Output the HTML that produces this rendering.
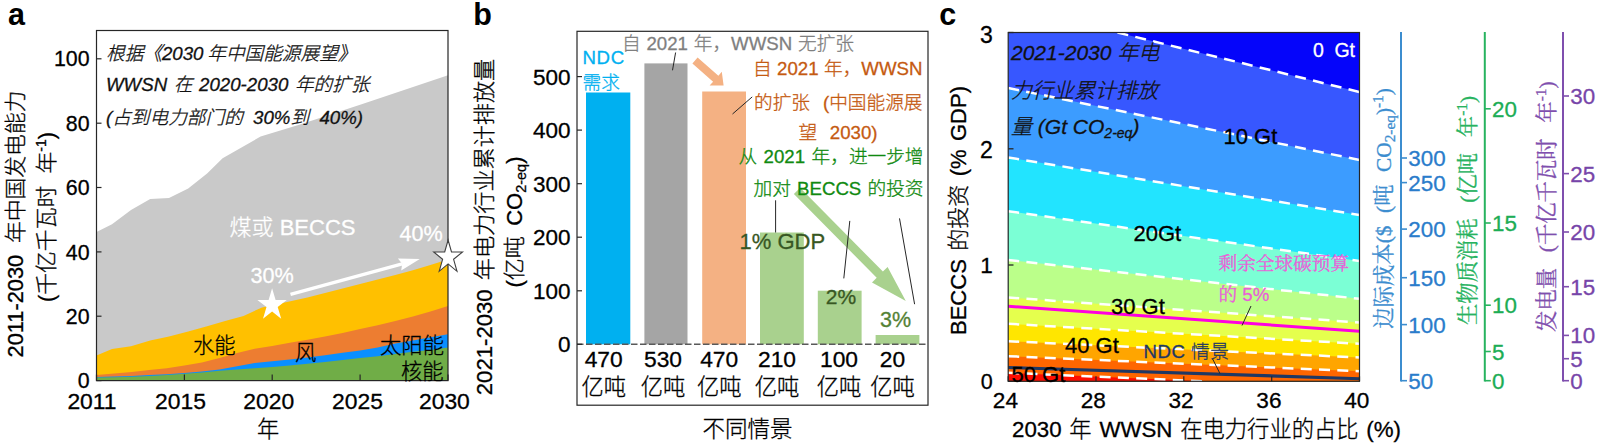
<!DOCTYPE html>
<html lang="zh"><head><meta charset="utf-8"><title>figure</title>
<style>html,body{margin:0;padding:0;background:#fff}svg{display:block;font-family:"Liberation Sans","Noto Sans CJK SC",sans-serif;font-weight:300}text{stroke-width:.3px}</style></head>
<body><svg width="1600" height="445" viewBox="0 0 1600 445">
<rect width="1600" height="445" fill="#fff"/>
<polygon points="96.5,231.9 112.0,224.3 131.0,210.0 150.2,198.9 169.0,198.0 188.2,188.6 207.1,173.5 222.6,158.2 260.6,136.5 300.0,124.5 362.4,104.0 448.0,75.2 448.0,380.6 96.5,380.6" fill="#C9C9C9"/>
<polygon points="96.5,355.4 112.0,349.1 131.0,346.2 150.2,340.5 169.0,336.5 188.2,331.5 207.1,326.2 226.0,320.8 243.5,316.0 262.0,307.4 287.0,302.0 307.4,297.4 325.0,293.0 342.6,288.6 360.1,284.1 377.7,279.5 395.3,275.0 412.9,270.2 430.4,265.0 448.0,259.5 448.0,380.6 96.5,380.6" fill="#FFC000"/>
<polygon points="96.5,375.1 114.1,373.6 131.7,371.9 149.2,370.1 166.8,368.2 184.4,365.6 201.9,362.5 219.5,358.1 237.1,353.1 254.7,348.7 272.2,346.1 289.8,342.7 307.4,339.8 325.0,336.4 342.6,332.9 360.1,329.1 377.7,325.2 395.3,321.0 412.9,316.5 430.4,311.5 448.0,306.0 448.0,380.6 96.5,380.6" fill="#ED7D31"/>
<polygon points="96.5,377.0 114.1,376.6 131.7,376.1 149.2,375.1 166.8,374.2 184.4,372.9 201.9,371.6 219.5,369.4 237.1,366.3 254.7,362.9 272.2,361.2 289.8,359.4 307.4,357.5 325.0,355.2 342.6,352.8 360.1,350.5 377.7,347.4 395.3,343.6 412.9,340.5 430.4,337.3 448.0,334.2 448.0,380.6 96.5,380.6" fill="#0A8FFF"/>
<polygon points="96.5,377.6 114.1,377.2 131.7,376.7 149.2,376.1 166.8,375.1 184.4,373.8 201.9,372.6 219.5,370.7 237.1,369.4 254.7,368.2 272.2,366.9 289.8,365.4 307.4,363.8 325.0,361.9 342.6,360.0 360.1,358.1 377.7,356.2 395.3,353.9 412.9,351.8 430.4,349.9 448.0,347.6 448.0,380.6 96.5,380.6" fill="#70AD47"/>
<rect x="96.5" y="30.5" width="351.5" height="350.1" fill="none" stroke="#262626" stroke-width="1.2"/>
<line x1="96.5" y1="380.6" x2="101.5" y2="380.6" stroke="#262626" stroke-width="1.2"/>
<text x="89.5" y="388.2" text-anchor="end" font-size="21.33" stroke="#000">0</text>
<line x1="96.5" y1="316.2" x2="101.5" y2="316.2" stroke="#262626" stroke-width="1.2"/>
<text x="89.5" y="323.8" text-anchor="end" font-size="21.33" stroke="#000">20</text>
<line x1="96.5" y1="251.9" x2="101.5" y2="251.9" stroke="#262626" stroke-width="1.2"/>
<text x="89.5" y="259.5" text-anchor="end" font-size="21.33" stroke="#000">40</text>
<line x1="96.5" y1="187.5" x2="101.5" y2="187.5" stroke="#262626" stroke-width="1.2"/>
<text x="89.5" y="195.1" text-anchor="end" font-size="21.33" stroke="#000">60</text>
<line x1="96.5" y1="123.2" x2="101.5" y2="123.2" stroke="#262626" stroke-width="1.2"/>
<text x="89.5" y="130.8" text-anchor="end" font-size="21.33" stroke="#000">80</text>
<line x1="96.5" y1="58.8" x2="101.5" y2="58.8" stroke="#262626" stroke-width="1.2"/>
<text x="89.5" y="66.4" text-anchor="end" font-size="21.33" stroke="#000">100</text>
<line x1="96.5" y1="380.6" x2="96.5" y2="374.6" stroke="#262626" stroke-width="1.2"/>
<text x="92.0" y="409.3" text-anchor="middle" font-size="22.90" stroke="#000">2011</text>
<line x1="184.4" y1="380.6" x2="184.4" y2="374.6" stroke="#262626" stroke-width="1.2"/>
<text x="180.5" y="409.3" text-anchor="middle" font-size="22.90" stroke="#000">2015</text>
<line x1="272.2" y1="380.6" x2="272.2" y2="374.6" stroke="#262626" stroke-width="1.2"/>
<text x="268.8" y="409.3" text-anchor="middle" font-size="22.90" stroke="#000">2020</text>
<line x1="360.1" y1="380.6" x2="360.1" y2="374.6" stroke="#262626" stroke-width="1.2"/>
<text x="357.5" y="409.3" text-anchor="middle" font-size="22.90" stroke="#000">2025</text>
<line x1="448.0" y1="380.6" x2="448.0" y2="374.6" stroke="#262626" stroke-width="1.2"/>
<text x="444.4" y="409.3" text-anchor="middle" font-size="22.90" stroke="#000">2030</text>
<text x="268" y="437" text-anchor="middle" font-size="22.20" stroke="#000">年</text>
<text x="8" y="24.6" font-size="30.5" font-weight="bold">a</text>
<text transform="translate(23,224) rotate(-90)" text-anchor="middle" word-spacing="5.73" font-size="21.80" stroke="#000">2011-2030 年中国发电能力</text>
<text transform="translate(54,217) rotate(-90)" text-anchor="middle" word-spacing="6.17" font-size="21.80" stroke="#000">(千亿千瓦时 年<tspan dy="-8" font-size="14">-1</tspan><tspan dy="8">)</tspan></text>
<text x="106" y="60.0" font-size="18.67" word-spacing="-1.41" font-style="italic" fill="#111" stroke="#111">根据《2030 年中国能源展望》</text>
<text x="106" y="90.5" font-size="18.67" word-spacing="1.44" font-style="italic" fill="#111" stroke="#111">WWSN 在 2020-2030 年的扩张</text>
<text x="106" y="123.5" font-size="18.67" word-spacing="5.13" font-style="italic" fill="#111" stroke="#111">(占到电力部门的 30%到 40%)</text>
<text x="193" y="352.5" font-size="21.33" stroke="#000">水能</text>
<text x="295" y="359.5" font-size="21.33" stroke="#000">风</text>
<text x="380" y="352.5" font-size="21.33" stroke="#000">太阳能</text>
<text x="401" y="378.5" font-size="21.33" stroke="#000">核能</text>
<text x="229.5" y="235.3" font-size="22.00" word-spacing="0.08" fill="#fff" stroke="#fff">煤或 BECCS</text>
<text x="250.5" y="283" font-size="21.60" fill="#fff" stroke="#fff">30%</text>
<text x="399.5" y="241" font-size="21.60" fill="#fff" stroke="#fff">40%</text>
<line x1="290.5" y1="294.3" x2="402.2" y2="263.8" stroke="#fff" stroke-width="3.3"/>
<polygon points="419.8,259.0 401.2,270.5 402.2,263.8 397.9,258.5" fill="#fff"/>
<polygon points="272.1,288.2 275.6,299.9 286.8,299.9 277.7,307.1 281.2,318.8 272.1,311.6 263.0,318.8 266.5,307.1 257.4,299.9 268.6,299.9" fill="#fff"/>
<polygon points="448.1,240.0 451.5,252.0 462.5,252.0 453.6,259.3 457.0,271.3 448.1,263.9 439.2,271.3 442.6,259.3 433.7,252.0 444.7,252.0" fill="#fff" stroke="#404040" stroke-width="1.1"/>
<rect x="586.0" y="92.5" width="44.3" height="251.8" fill="#00B0F0"/>
<rect x="644.4" y="63.4" width="43.1" height="280.9" fill="#A5A5A5"/>
<rect x="702.2" y="91.5" width="43.8" height="252.8" fill="#F4B183"/>
<rect x="760.0" y="232.5" width="43.8" height="111.8" fill="#A9D18E"/>
<rect x="817.8" y="290.7" width="43.8" height="53.6" fill="#A9D18E"/>
<rect x="875.6" y="335.0" width="43.8" height="9.3" fill="#A9D18E"/>
<line x1="577.0" y1="344.3" x2="928.0" y2="344.3" stroke="#595959" stroke-width="1.4" stroke-dasharray="6.5,2.5"/>
<rect x="577.0" y="31.3" width="351.0" height="373.9" fill="none" stroke="#262626" stroke-width="1.2"/>
<line x1="577.0" y1="344.3" x2="582.0" y2="344.3" stroke="#262626" stroke-width="1.2"/>
<text x="570.5" y="352.3" text-anchor="end" font-size="22.50" stroke="#000">0</text>
<line x1="577.0" y1="290.8" x2="582.0" y2="290.8" stroke="#262626" stroke-width="1.2"/>
<text x="570.5" y="298.8" text-anchor="end" font-size="22.50" stroke="#000">100</text>
<line x1="577.0" y1="237.2" x2="582.0" y2="237.2" stroke="#262626" stroke-width="1.2"/>
<text x="570.5" y="245.2" text-anchor="end" font-size="22.50" stroke="#000">200</text>
<line x1="577.0" y1="183.7" x2="582.0" y2="183.7" stroke="#262626" stroke-width="1.2"/>
<text x="570.5" y="191.7" text-anchor="end" font-size="22.50" stroke="#000">300</text>
<line x1="577.0" y1="130.1" x2="582.0" y2="130.1" stroke="#262626" stroke-width="1.2"/>
<text x="570.5" y="138.1" text-anchor="end" font-size="22.50" stroke="#000">400</text>
<line x1="577.0" y1="76.6" x2="582.0" y2="76.6" stroke="#262626" stroke-width="1.2"/>
<text x="570.5" y="84.6" text-anchor="end" font-size="22.50" stroke="#000">500</text>
<text x="603.7" y="367" text-anchor="middle" font-size="22.80" stroke="#000">470</text>
<text x="603.7" y="395" text-anchor="middle" font-size="22.30" stroke="#000">亿吨</text>
<text x="663.0" y="367" text-anchor="middle" font-size="22.80" stroke="#000">530</text>
<text x="663.0" y="395" text-anchor="middle" font-size="22.30" stroke="#000">亿吨</text>
<text x="719.2" y="367" text-anchor="middle" font-size="22.80" stroke="#000">470</text>
<text x="719.2" y="395" text-anchor="middle" font-size="22.30" stroke="#000">亿吨</text>
<text x="777.0" y="367" text-anchor="middle" font-size="22.80" stroke="#000">210</text>
<text x="777.0" y="395" text-anchor="middle" font-size="22.30" stroke="#000">亿吨</text>
<text x="839.0" y="367" text-anchor="middle" font-size="22.80" stroke="#000">100</text>
<text x="839.0" y="395" text-anchor="middle" font-size="22.30" stroke="#000">亿吨</text>
<text x="892.5" y="367" text-anchor="middle" font-size="22.80" stroke="#000">20</text>
<text x="892.5" y="395" text-anchor="middle" font-size="22.30" stroke="#000">亿吨</text>
<text x="747.5" y="437.3" text-anchor="middle" font-size="22.50" stroke="#000">不同情景</text>
<text x="473.3" y="24.5" font-size="30.5" font-weight="bold">b</text>
<text transform="translate(491.5,227) rotate(-90)" text-anchor="middle" word-spacing="3.05" font-size="22.15" stroke="#000">2021-2030 年电力行业累计排放量</text>
<text transform="translate(521.5,222) rotate(-90)" text-anchor="middle" word-spacing="4.19" font-size="22.00" stroke="#000">(亿吨 CO<tspan dy="4" font-size="14.5">2-eq</tspan><tspan dy="-4">)</tspan></text>
<polygon points="692.4,63.4 713.1,81.7 709.6,85.6 723.6,85.6 721.8,71.7 718.4,75.7 697.6,57.4" fill="#F4B183"/>
<polygon points="793.9,193.9 876.7,277.8 872.0,282.4 905.8,301.0 887.6,266.9 882.9,271.6 800.1,187.7" fill="#A9D18E"/>
<text x="582.5" y="64" font-size="18.67" fill="#00B0F0" letter-spacing="0.6" stroke="#00B0F0">NDC</text>
<text x="582.5" y="89" font-size="18.67" fill="#00B0F0" stroke="#00B0F0">需求</text>
<text x="622" y="49.7" font-size="18.67" word-spacing="0.62" fill="#7F7F7F" stroke="#7F7F7F">自 2021 年，WWSN 无扩张</text>
<text x="753" y="75" font-size="18.67" word-spacing="0.26" fill="#C55A11" stroke="#C55A11">自 2021 年，WWSN</text>
<text x="754" y="108.6" font-size="18.67" word-spacing="7.84" fill="#C55A11" stroke="#C55A11">的扩张 (中国能源展</text>
<text x="798.5" y="139" font-size="18.67" word-spacing="7.44" fill="#C55A11" stroke="#C55A11">望 2030)</text>
<text x="738.5" y="162.8" font-size="18.67" word-spacing="1.27" fill="#108A10" stroke="#108A10">从 2021 年，进一步增</text>
<text x="753.5" y="195" font-size="18.67" word-spacing="1.03" fill="#108A10" stroke="#108A10">加对 BECCS 的投资</text>
<text x="739.5" y="248.5" font-size="22" fill="#385723" stroke="#385723">1% GDP</text>
<text x="825.8" y="303.5" font-size="21" fill="#385723" stroke="#385723">2%</text>
<text x="880" y="327" font-size="21.5" fill="#548235" stroke="#548235">3%</text>
<line x1="675.6" y1="52.5" x2="672.5" y2="70.3" stroke="#262626" stroke-width="1"/>
<line x1="752.2" y1="96.9" x2="732.5" y2="114.0" stroke="#262626" stroke-width="1"/>
<line x1="775.6" y1="200.3" x2="775.6" y2="232.5" stroke="#262626" stroke-width="1"/>
<line x1="849.8" y1="220.9" x2="843.8" y2="278.4" stroke="#262626" stroke-width="1"/>
<line x1="899.5" y1="218.4" x2="914.6" y2="304.2" stroke="#262626" stroke-width="1"/>
<rect x="1008.2" y="32.5" width="351.3" height="348.8" fill="#3757FF"/>
<polygon points="1117.5,32.5 1359.5,32.5 1359.5,92" fill="#0505FA"/>
<polygon points="1008.2,88.0 1359.5,160.0 1359.5,381.3 1008.2,381.3" fill="#3C9CFF"/>
<polygon points="1008.2,157.5 1359.5,215.0 1359.5,381.3 1008.2,381.3" fill="#22E4FF"/>
<polygon points="1008.2,211.2 1359.5,261.0 1359.5,381.3 1008.2,381.3" fill="#7BFFD5"/>
<polygon points="1008.2,260.0 1359.5,298.8 1359.5,381.3 1008.2,381.3" fill="#BBFF8A"/>
<polygon points="1008.2,297.5 1359.5,322.5 1359.5,381.3 1008.2,381.3" fill="#E5FF4D"/>
<polygon points="1008.2,323.8 1359.5,343.8 1359.5,381.3 1008.2,381.3" fill="#FFE600"/>
<polygon points="1008.2,341.2 1359.5,357.5 1359.5,381.3 1008.2,381.3" fill="#FFA500"/>
<polygon points="1008.2,356.2 1359.5,371.2 1359.5,381.3 1008.2,381.3" fill="#FF6600"/>
<polygon points="1008.2,372.8 1205,381.3 1008.2,381.3" fill="#FF0D00"/>
<line x1="1117.5" y1="32.5" x2="1359.5" y2="92" stroke="#fff" stroke-width="2.5" stroke-dasharray="11,7.3" fill="none"/>
<line x1="1008.2" y1="88.0" x2="1359.5" y2="160.0" stroke="#fff" stroke-width="2.5" stroke-dasharray="11,7.3" fill="none"/>
<line x1="1008.2" y1="157.5" x2="1359.5" y2="215.0" stroke="#fff" stroke-width="2.5" stroke-dasharray="11,7.3" fill="none"/>
<line x1="1008.2" y1="211.2" x2="1359.5" y2="261.0" stroke="#fff" stroke-width="2.5" stroke-dasharray="11,7.3" fill="none"/>
<line x1="1008.2" y1="260.0" x2="1359.5" y2="298.8" stroke="#fff" stroke-width="2.5" stroke-dasharray="11,7.3" fill="none"/>
<line x1="1008.2" y1="297.5" x2="1359.5" y2="322.5" stroke="#fff" stroke-width="2.5" stroke-dasharray="11,7.3" fill="none"/>
<line x1="1008.2" y1="323.8" x2="1359.5" y2="343.8" stroke="#fff" stroke-width="2.5" stroke-dasharray="11,7.3" fill="none"/>
<line x1="1008.2" y1="341.2" x2="1359.5" y2="357.5" stroke="#fff" stroke-width="2.5" stroke-dasharray="11,7.3" fill="none"/>
<line x1="1008.2" y1="356.2" x2="1359.5" y2="371.2" stroke="#fff" stroke-width="2.5" stroke-dasharray="11,7.3" fill="none"/>
<line x1="1008.2" y1="372.8" x2="1205" y2="381.3" stroke="#fff" stroke-width="2.5" stroke-dasharray="11,7.3" fill="none"/>
<line x1="1008.2" y1="306.25" x2="1359.5" y2="331.25" stroke="#FF00E0" stroke-width="3"/>
<line x1="1008.2" y1="367.5" x2="1359.5" y2="378.75" stroke="#1F3864" stroke-width="3.2"/>
<rect x="1008.2" y="32.5" width="351.3" height="348.8" fill="none" stroke="#262626" stroke-width="1.2"/>
<line x1="1008.2" y1="381.3" x2="1013.5" y2="381.3" stroke="#262626" stroke-width="1.3"/>
<text x="992.8" y="388.8" text-anchor="end" font-size="21.50" stroke="#000">0</text>
<line x1="1008.2" y1="265.0" x2="1013.5" y2="265.0" stroke="#262626" stroke-width="1.3"/>
<text x="992.8" y="272.8" text-anchor="end" font-size="22.50" stroke="#000">1</text>
<line x1="1008.2" y1="148.8" x2="1013.5" y2="148.8" stroke="#262626" stroke-width="1.3"/>
<text x="992.8" y="158.4" text-anchor="end" font-size="23.00" stroke="#000">2</text>
<line x1="1008.2" y1="32.5" x2="1013.5" y2="32.5" stroke="#262626" stroke-width="1.3"/>
<text x="992.8" y="43.3" text-anchor="end" font-size="23.00" stroke="#000">3</text>
<line x1="1008.2" y1="381.3" x2="1008.2" y2="376.3" stroke="#262626" stroke-width="1.2"/>
<text x="1005.4" y="408" text-anchor="middle" font-size="22.60" stroke="#000">24</text>
<line x1="1096.0" y1="381.3" x2="1096.0" y2="376.3" stroke="#262626" stroke-width="1.2"/>
<text x="1093.2" y="408" text-anchor="middle" font-size="22.60" stroke="#000">28</text>
<line x1="1183.8" y1="381.3" x2="1183.8" y2="376.3" stroke="#262626" stroke-width="1.2"/>
<text x="1181.0" y="408" text-anchor="middle" font-size="22.60" stroke="#000">32</text>
<line x1="1271.7" y1="381.3" x2="1271.7" y2="376.3" stroke="#262626" stroke-width="1.2"/>
<text x="1268.9" y="408" text-anchor="middle" font-size="22.60" stroke="#000">36</text>
<line x1="1359.5" y1="381.3" x2="1359.5" y2="376.3" stroke="#262626" stroke-width="1.2"/>
<text x="1356.7" y="408" text-anchor="middle" font-size="22.60" stroke="#000">40</text>
<text x="1012" y="437.3" word-spacing="1.55" font-size="22.30" stroke="#000">2030 年 WWSN 在电力行业的占比 (%)</text>
<text x="939.2" y="24.5" font-size="30.5" font-weight="bold">c</text>
<text transform="translate(965.5,210.5) rotate(-90)" text-anchor="middle" word-spacing="2.32" font-size="22.00" stroke="#000">BECCS 的投资 (% GDP)</text>
<text x="1011" y="60" font-size="21" font-style="italic" fill="#111" stroke="#111">2021-2030 年电</text>
<text x="1011" y="97.5" font-size="21" font-style="italic" fill="#111" stroke="#111">力行业累计排放</text>
<text x="1011" y="134" font-size="21" font-style="italic" fill="#111" stroke="#111">量 (Gt CO<tspan dy="4" font-size="14">2-eq</tspan><tspan dy="-4">)</tspan></text>
<text x="1313" y="57" font-size="19.50" word-spacing="5.14" fill="#fff" stroke="#fff">0 Gt</text>
<text x="1223.5" y="143.7" font-size="22" stroke="#000">10 Gt</text>
<text x="1133.5" y="241" font-size="22" stroke="#000">20Gt</text>
<text x="1111" y="313.7" font-size="22" stroke="#000">30 Gt</text>
<text x="1065" y="352.5" font-size="22" stroke="#000">40 Gt</text>
<text x="1011.5" y="381.6" font-size="22" stroke="#000">50 Gt</text>
<text x="1143.5" y="357.5" font-size="18.67" fill="#1F3864" letter-spacing="0.5" stroke="#1F3864">NDC 情景</text>
<text x="1218.5" y="270" font-size="18.67" fill="#E85FD8" font-weight="400" font-family='"Liberation Serif","Noto Serif CJK SC",serif' stroke="#E85FD8">剩余全球碳预算</text>
<text x="1218.5" y="300.5" font-size="18.67" fill="#E85FD8" stroke="#E85FD8"><tspan font-weight="400" font-family='"Liberation Serif","Noto Serif CJK SC",serif'>的</tspan> 5%</text>
<line x1="1251" y1="306" x2="1242" y2="325.5" stroke="#262626" stroke-width="1"/>
<line x1="1212.5" y1="358.7" x2="1220" y2="373.7" stroke="#262626" stroke-width="1"/>
<line x1="1401.0" y1="32" x2="1401.0" y2="381.5" stroke="#3C8DCF" stroke-width="2"/>
<line x1="1401.0" y1="158.0" x2="1407.0" y2="158.0" stroke="#3C8DCF" stroke-width="1.6"/>
<text x="1408.3" y="166.0" font-size="22.40" fill="#2A7CCB" stroke="#2A7CCB">300</text>
<line x1="1401.0" y1="182.6" x2="1407.0" y2="182.6" stroke="#3C8DCF" stroke-width="1.6"/>
<text x="1408.3" y="190.6" font-size="22.40" fill="#2A7CCB" stroke="#2A7CCB">250</text>
<line x1="1401.0" y1="229.1" x2="1407.0" y2="229.1" stroke="#3C8DCF" stroke-width="1.6"/>
<text x="1408.3" y="237.1" font-size="22.40" fill="#2A7CCB" stroke="#2A7CCB">200</text>
<line x1="1401.0" y1="277.7" x2="1407.0" y2="277.7" stroke="#3C8DCF" stroke-width="1.6"/>
<text x="1408.3" y="285.7" font-size="22.40" fill="#2A7CCB" stroke="#2A7CCB">150</text>
<line x1="1401.0" y1="324.6" x2="1407.0" y2="324.6" stroke="#3C8DCF" stroke-width="1.6"/>
<text x="1408.3" y="332.6" font-size="22.40" fill="#2A7CCB" stroke="#2A7CCB">100</text>
<line x1="1401.0" y1="380.7" x2="1407.0" y2="380.7" stroke="#3C8DCF" stroke-width="1.6"/>
<text x="1408.3" y="388.7" font-size="22.40" fill="#2A7CCB" stroke="#2A7CCB">50</text>
<text transform="translate(1391,208.4) rotate(-90)" text-anchor="middle" word-spacing="7.27" font-size="21.33" fill="#3C8DCF" font-weight="400" font-family='"Liberation Serif","Noto Serif CJK SC",serif' stroke="#3C8DCF">边际成本($ (吨 CO<tspan dy="4" font-size="15.3">2-eq</tspan><tspan dy="-4">)</tspan><tspan dy="-8" font-size="15.3">-1</tspan><tspan dy="8">)</tspan></text>
<line x1="1484.8" y1="32" x2="1484.8" y2="381.5" stroke="#27B35F" stroke-width="2"/>
<line x1="1484.8" y1="108.8" x2="1490.8" y2="108.8" stroke="#27B35F" stroke-width="1.6"/>
<text x="1492.1" y="116.8" font-size="22.40" fill="#1CAD55" stroke="#1CAD55">20</text>
<line x1="1484.8" y1="223.0" x2="1490.8" y2="223.0" stroke="#27B35F" stroke-width="1.6"/>
<text x="1492.1" y="231.0" font-size="22.40" fill="#1CAD55" stroke="#1CAD55">15</text>
<line x1="1484.8" y1="305.2" x2="1490.8" y2="305.2" stroke="#27B35F" stroke-width="1.6"/>
<text x="1492.1" y="313.2" font-size="22.40" fill="#1CAD55" stroke="#1CAD55">10</text>
<line x1="1484.8" y1="351.5" x2="1490.8" y2="351.5" stroke="#27B35F" stroke-width="1.6"/>
<text x="1492.1" y="359.5" font-size="22.40" fill="#1CAD55" stroke="#1CAD55">5</text>
<line x1="1484.8" y1="380.7" x2="1490.8" y2="380.7" stroke="#27B35F" stroke-width="1.6"/>
<text x="1492.1" y="388.7" font-size="22.40" fill="#1CAD55" stroke="#1CAD55">0</text>
<text transform="translate(1475,210.5) rotate(-90)" text-anchor="middle" word-spacing="10.37" font-size="21.33" fill="#27B35F" font-weight="400" font-family='"Liberation Serif","Noto Serif CJK SC",serif' stroke="#27B35F">生物质消耗 (亿吨 年<tspan dy="-8" font-size="15.3">-1</tspan><tspan dy="8">)</tspan></text>
<line x1="1563.0" y1="32" x2="1563.0" y2="381.5" stroke="#7F4FAE" stroke-width="2"/>
<line x1="1563.0" y1="96.0" x2="1569.0" y2="96.0" stroke="#7F4FAE" stroke-width="1.6"/>
<text x="1570.3" y="104.0" font-size="22.40" fill="#7745A9" stroke="#7745A9">30</text>
<line x1="1563.0" y1="173.6" x2="1569.0" y2="173.6" stroke="#7F4FAE" stroke-width="1.6"/>
<text x="1570.3" y="181.6" font-size="22.40" fill="#7745A9" stroke="#7745A9">25</text>
<line x1="1563.0" y1="232.0" x2="1569.0" y2="232.0" stroke="#7F4FAE" stroke-width="1.6"/>
<text x="1570.3" y="240.0" font-size="22.40" fill="#7745A9" stroke="#7745A9">20</text>
<line x1="1563.0" y1="286.7" x2="1569.0" y2="286.7" stroke="#7F4FAE" stroke-width="1.6"/>
<text x="1570.3" y="294.7" font-size="22.40" fill="#7745A9" stroke="#7745A9">15</text>
<line x1="1563.0" y1="335.4" x2="1569.0" y2="335.4" stroke="#7F4FAE" stroke-width="1.6"/>
<text x="1570.3" y="343.4" font-size="22.40" fill="#7745A9" stroke="#7745A9">10</text>
<line x1="1563.0" y1="358.7" x2="1569.0" y2="358.7" stroke="#7F4FAE" stroke-width="1.6"/>
<text x="1570.3" y="366.7" font-size="22.40" fill="#7745A9" stroke="#7745A9">5</text>
<line x1="1563.0" y1="380.7" x2="1569.0" y2="380.7" stroke="#7F4FAE" stroke-width="1.6"/>
<text x="1570.3" y="388.7" font-size="22.40" fill="#7745A9" stroke="#7745A9">0</text>
<text transform="translate(1554,206.7) rotate(-90)" text-anchor="middle" word-spacing="10.45" font-size="21.33" fill="#7F4FAE" font-weight="400" font-family='"Liberation Serif","Noto Serif CJK SC",serif' stroke="#7F4FAE">发电量 (千亿千瓦时 年<tspan dy="-8" font-size="15.3">-1</tspan><tspan dy="8">)</tspan></text>
</svg></body></html>
